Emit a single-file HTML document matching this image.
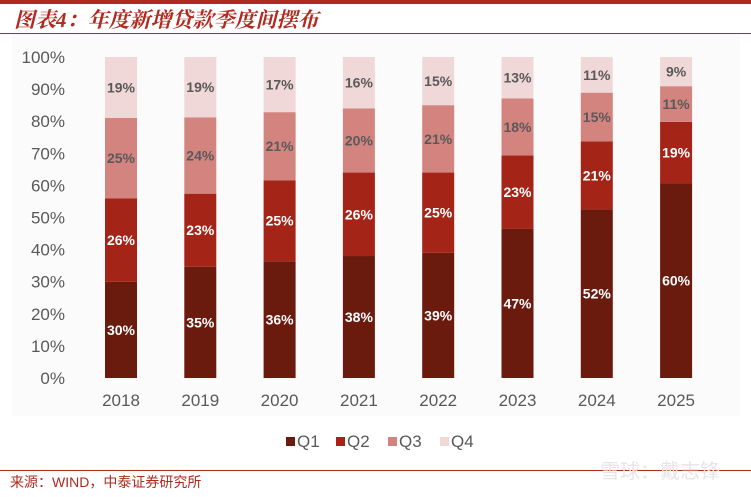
<!DOCTYPE html>
<html><head><meta charset="utf-8"><style>
body{margin:0;width:751px;height:492px;background:#fff;overflow:hidden;font-family:"Liberation Sans","Noto Sans CJK SC",sans-serif;}
</style></head><body>
<svg id="c" width="751" height="492" xmlns="http://www.w3.org/2000/svg">
<rect x="0" y="0" width="751" height="4" fill="#b02a1f"/>
<text x="14" y="27" font-size="21" font-style="italic" font-weight="bold" fill="#b02a1f" font-family="'Liberation Serif','Noto Serif CJK SC',serif">图表4：年度新增贷款季度间摆布</text>
<rect x="0" y="33" width="751" height="1" fill="#b02a1f"/>
<rect x="12" y="34" width="728" height="382" fill="#fcfbfb"/>
<g id="yaxis"></g>
<g id="bars"></g>
<g id="xaxis"></g>
<g id="legend"></g>
<rect x="0" y="470" width="751" height="1" fill="#b02a1f"/>
<text x="10" y="487" font-size="14" fill="#b02a1f">来源：WIND，中泰证券研究所</text>
<text x="600" y="478" font-size="20" fill="#e6e6e6">雪球：戴志锋</text>
</svg>
<script>
const years=["2018","2019","2020","2021","2022","2023","2024","2025"];
const q1=[30,35,36,38,39,47,52,60];
const q2=[26,23,25,26,25,23,21,19];
const q3=[25,24,21,20,21,18,15,11];
const q4=[19,19,17,16,15,13,11,9];
const yTicks=[0,10,20,30,40,50,60,70,80,90,100];
const seriesNames=["Q1","Q2","Q3","Q4"];
const colors=["#6b1a0e","#a52418","#d4847f","#f0d8d8"];
const labelColors=["#ffffff","#ffffff","#595959","#595959"];
const NS="http://www.w3.org/2000/svg";
const y0=378,y1=57,x0=121,dx=79.3,bw=32;
const Y=v=>y0-(y0-y1)*v/100;
const X=i=>x0+dx*i;
function mk(t,a,p){const e=document.createElementNS(NS,t);for(const k in a)e.setAttribute(k,a[k]);p.appendChild(e);return e;}
const ya=document.getElementById('yaxis');
yTicks.forEach(t=>{const e=mk('text',{x:65,y:Y(t)+6,'text-anchor':'end','font-size':17,fill:'#595959'},ya);e.textContent=t+'%';

});
const bg=document.getElementById('bars');
const all=[q1,q2,q3,q4];
years.forEach((yr,i)=>{let acc=0;const tot=all.reduce((s,a)=>s+a[i],0);all.forEach((s,k)=>{const v=s[i];const p=v*100/tot;
const r=mk('rect',{x:X(i)-bw/2,y:Y(acc+p),width:bw,height:Y(acc)-Y(acc+p),fill:colors[k]},bg);


const t=mk('text',{x:X(i),y:(Y(acc)+Y(acc+p))/2+5,'text-anchor':'middle','font-size':14,'font-weight':'bold',fill:labelColors[k]},bg);t.textContent=v+'%';


acc+=p;});
const xl=mk('text',{x:X(i),y:406,'text-anchor':'middle','font-size':17,fill:'#595959'},document.getElementById('xaxis'));xl.textContent=yr;

});
const lg=document.getElementById('legend');
const lx=[286,336,388,440];
seriesNames.forEach((n,k)=>{const g=mk('g',{},lg);


mk('rect',{x:lx[k],y:437,width:9,height:9,fill:colors[k]},g);
const t=mk('text',{x:lx[k]+11,y:447,'font-size':17,fill:'#595959'},g);t.textContent=n;});
</script>
</body></html>
